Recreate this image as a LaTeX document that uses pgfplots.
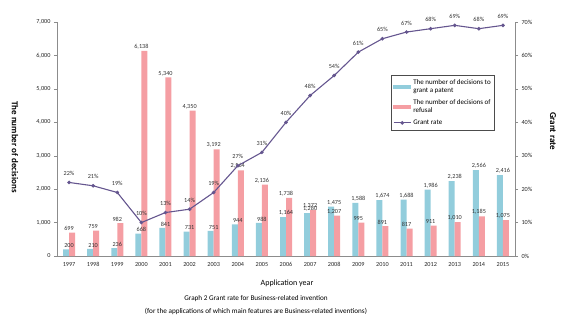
\documentclass[border=0pt]{standalone}
\usepackage{pgfplots}
\pgfplotsset{compat=1.18}
\usepackage{fontspec}
\setmainfont{Carlito}
\definecolor{barblue}{HTML}{92CDDC}
\definecolor{barpink}{HTML}{F59EA3}
\definecolor{rateline}{HTML}{65568F}
\definecolor{axgray}{HTML}{8C8C8C}
\begin{document}
\begin{tikzpicture}[x=1pt,y=1pt]
\useasboundingbox (0,0) rectangle (571,322);
\pgfplotsset{
  common/.style={
    at={(57pt,66pt)}, anchor=south west,
    scale only axis, width=458pt, height=234pt,
    xmin=-0.5, xmax=18.5,
    /pgf/number format/assume math mode=true,
    tick label style={font=\fontsize{6.2}{7}\selectfont, text=black!85},
    axis line style={draw=axgray, line width=0.6pt},
    tick style={draw=axgray},
    tick align=outside, major tick length=3pt,
  }
}
\begin{axis}[common,
  ymin=0, ymax=7000,
  axis y line*=left, axis x line*=bottom,
  xtick={0,...,18},
  xticklabels={1997,1998,1999,2000,2001,2002,2003,2004,2005,2006,2007,2008,2009,2010,2011,2012,2013,2014,2015},
  x tick style={draw=none},
  ytick={0,1000,...,7000},
  scaled y ticks=false,
  yticklabel style={/pgf/number format/1000 sep={,}},
  nodes near coords={\pgfmathprintnumber[1000 sep={,}]{\pgfplotspointmeta}},
  every node near coord/.append style={font=\fontsize{6.2}{7}\selectfont, text=black!80, inner sep=1.5pt},
]
\addplot[ybar, bar width=6pt, bar shift=-3pt, fill=barblue, draw=none] coordinates {
(0,200) (1,210) (2,236) (3,668) (4,841) (5,731) (6,751) (7,944) (8,988) (9,1164)
(10,1280) (11,1475) (12,1588) (13,1674) (14,1688) (15,1986) (16,2238) (17,2566) (18,2416)};
\addplot[ybar, bar width=6pt, bar shift=3pt, fill=barpink, draw=none] coordinates {
(0,699) (1,759) (2,982) (3,6138) (4,5340) (5,4350) (6,3192) (7,2564) (8,2136) (9,1738)
(10,1372) (11,1207) (12,995) (13,891) (14,817) (15,911) (16,1010) (17,1185) (18,1075)};
\end{axis}
\begin{axis}[common,
  ymin=0, ymax=70,
  axis y line*=right, axis x line=none,
  ytick={0,10,...,70},
  yticklabel={\pgfmathprintnumber{\tick}\%},
  legend style={at={(0.729,0.774)}, anchor=north west, draw=black!70, line width=0.5pt,
    font=\fontsize{7}{8.5}\selectfont, cells={align=left}, inner sep=2pt, row sep=1.5pt},
  legend cell align=left,
]
\addlegendimage{legend image code/.code={\fill[barblue] (0pt,-1.5pt) rectangle (17pt,1.5pt);}}
\addlegendentry{The number of decisions to\\grant a patent}
\addlegendimage{legend image code/.code={\fill[barpink] (0pt,-1.5pt) rectangle (17pt,1.5pt);}}
\addlegendentry{The number of decisions of\\refusal}
\addplot[rateline, line width=1.1pt, mark=*, mark size=1.2pt,
  nodes near coords={\pgfmathprintnumber{\pgfplotspointmeta}\%},
  every node near coord/.append style={font=\fontsize{6.2}{7}\selectfont, text=black!80, anchor=south, yshift=3pt}]
 coordinates {
(0,22) (1,21) (2,19) (3,10) (4,13) (5,14) (6,19) (7,27) (8,31) (9,40)
(10,48) (11,54) (12,61) (13,65) (14,67) (15,68) (16,69) (17,68) (18,69)};
\addlegendentry{Grant rate}
\end{axis}
\node[rotate=-90, font=\bfseries\fontsize{9}{10}\selectfont] at (15,175) {The number of decisions};
\node[rotate=-90, font=\bfseries\fontsize{9}{10}\selectfont] at (553,191) {Grant rate};
\node[font=\fontsize{8}{9}\selectfont] at (287,39) {Application year};
\node[font=\fontsize{7.2}{8}\selectfont] at (256,23) {Graph 2 Grant rate for Business-related invention};
\node[font=\fontsize{7.2}{8}\selectfont] at (256,11) {(for the applications of which main features are Business-related inventions)};
\end{tikzpicture}
\end{document}
